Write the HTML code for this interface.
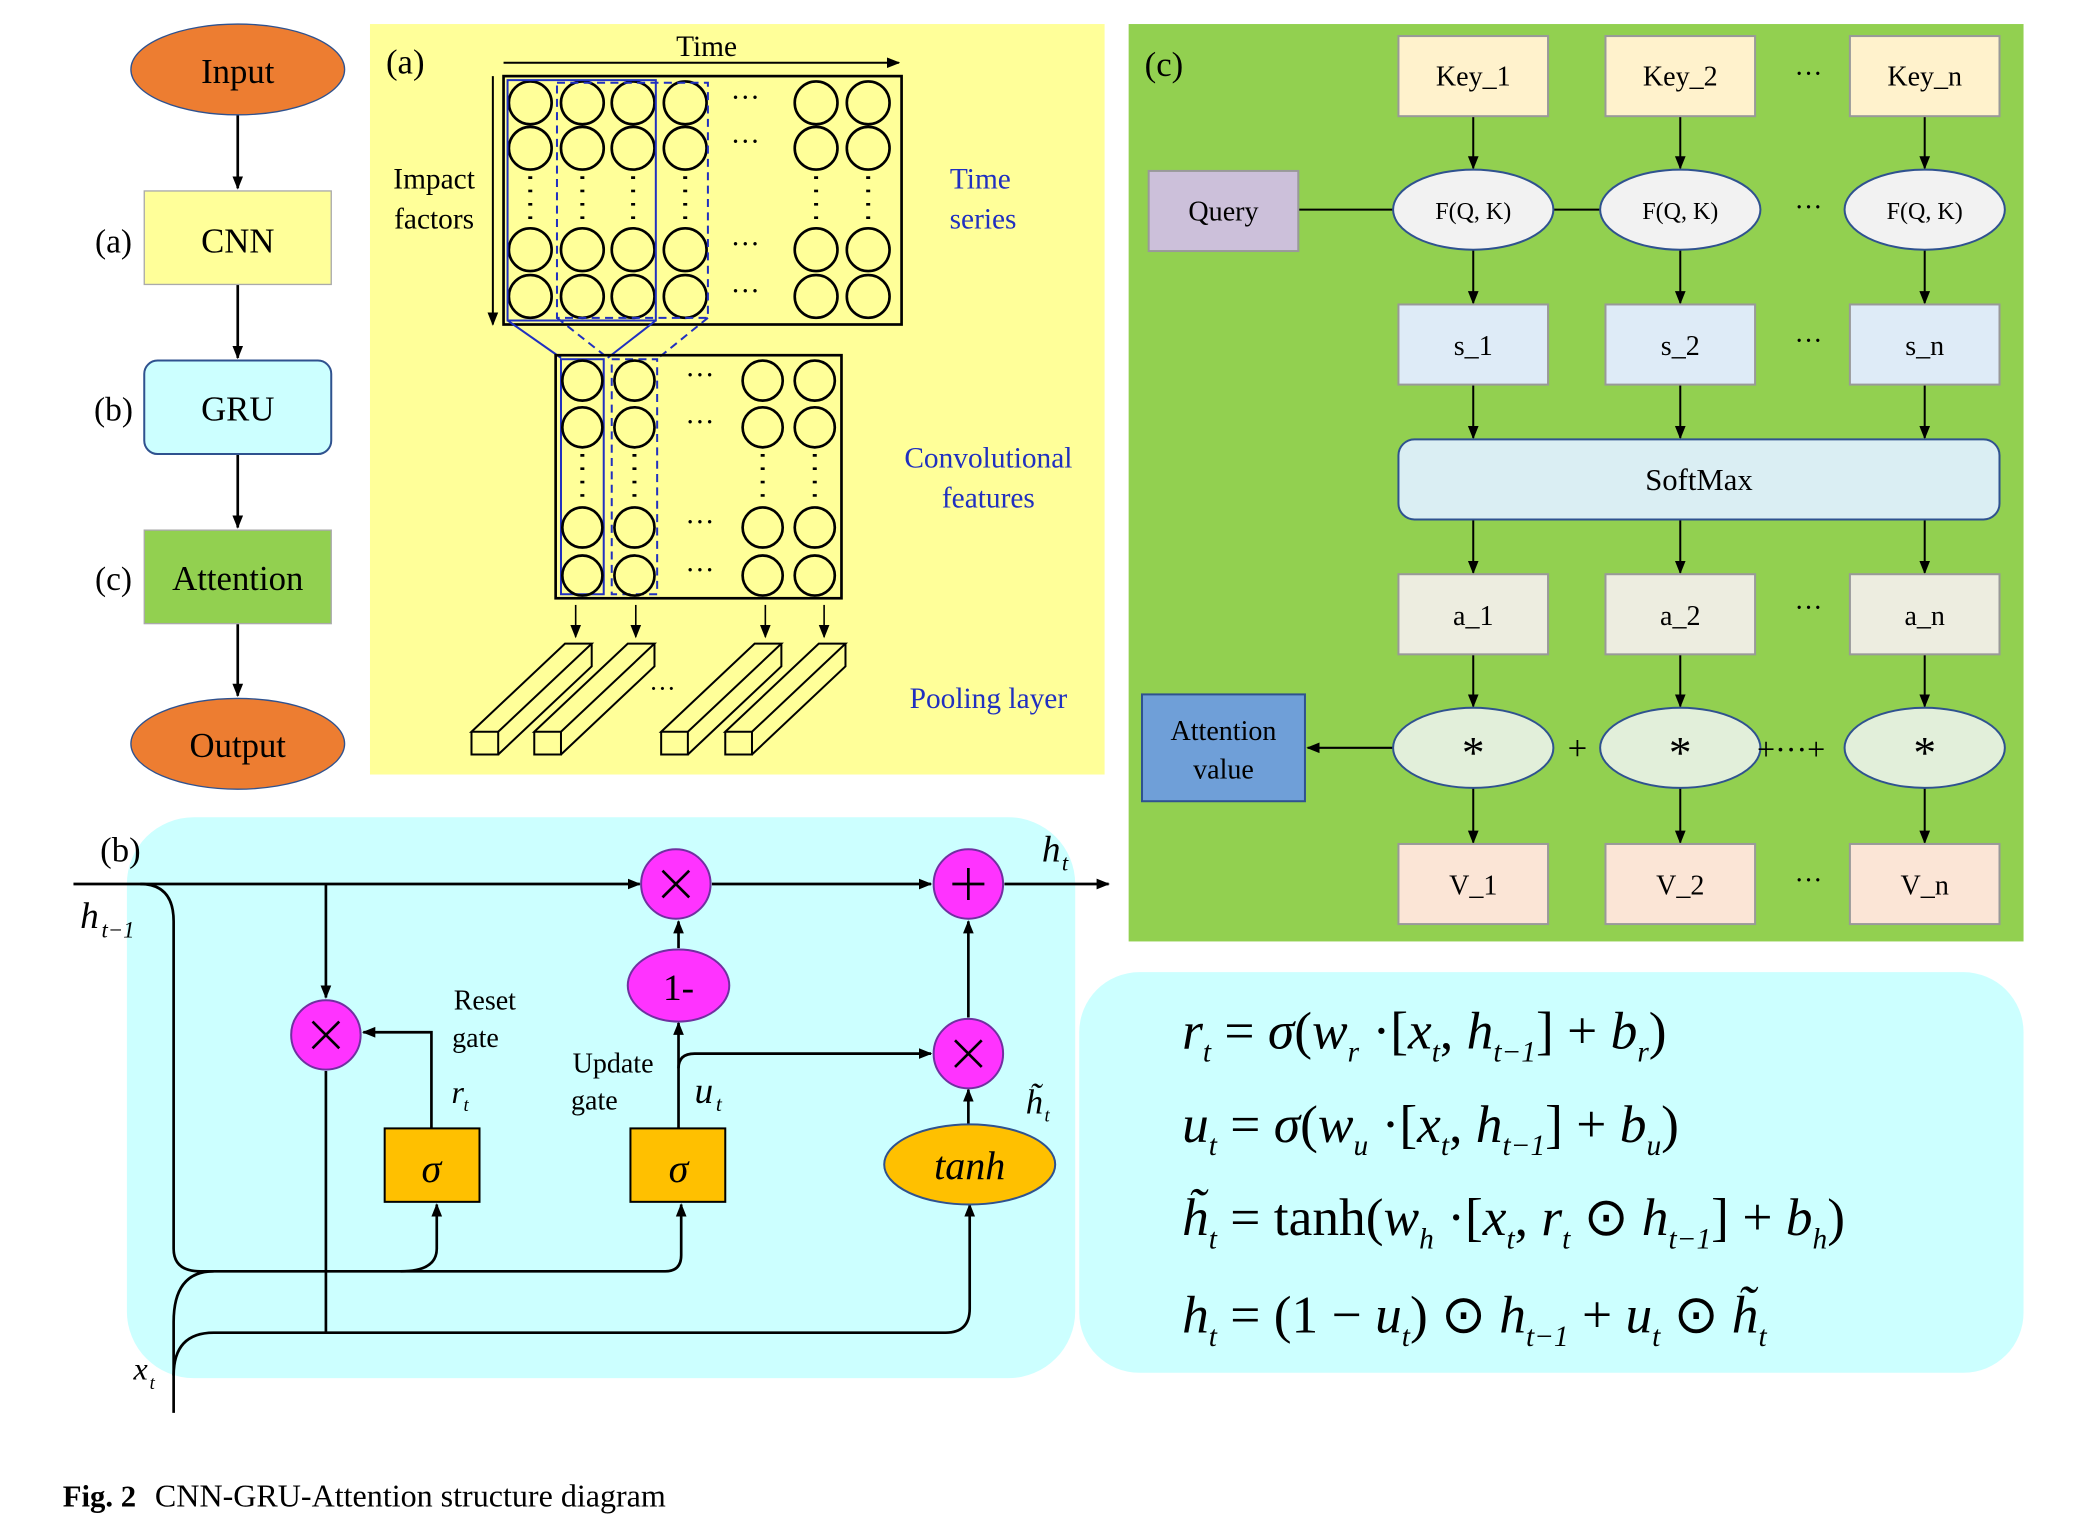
<!DOCTYPE html>
<html><head><meta charset="utf-8"><style>
html,body{margin:0;padding:0;background:#fff;}
svg{display:block;}
text{font-family:"Liberation Serif",serif;}
</style></head><body>
<svg width="2093" height="1521" viewBox="0 0 1567 1139" preserveAspectRatio="none" xmlns="http://www.w3.org/2000/svg">
<defs>
<marker id="ar" markerWidth="10" markerHeight="10" refX="9" refY="5" orient="auto" markerUnits="userSpaceOnUse"><path d="M0,1 L10,5 L0,9 z" fill="#000"/></marker>
</defs>
<!-- Left flow -->
<g stroke="#000" stroke-width="2" fill="none">
<line x1="178" y1="86" x2="178" y2="141" marker-end="url(#ar)"/>
<line x1="178" y1="213" x2="178" y2="268" marker-end="url(#ar)"/>
<line x1="178" y1="340" x2="178" y2="395" marker-end="url(#ar)"/>
<line x1="178" y1="467" x2="178" y2="521" marker-end="url(#ar)"/>
</g>
<ellipse cx="178" cy="52" rx="80" ry="34" fill="#ED7D31" stroke="#2F528F" stroke-width="1"/>
<text x="178" y="62" font-size="26" text-anchor="middle">Input</text>
<rect x="108" y="143" width="140" height="70" fill="#FFFF99" stroke="#aaa"/>
<text x="178" y="189" font-size="26" text-anchor="middle">CNN</text>
<rect x="108" y="270" width="140" height="70" rx="10" fill="#CCFFFF" stroke="#2F528F" stroke-width="1.5"/>
<text x="178" y="315" font-size="26" text-anchor="middle">GRU</text>
<rect x="108" y="397" width="140" height="70" fill="#92D050" stroke="#aaa"/>
<text x="178" y="442" font-size="26" text-anchor="middle">Attention</text>
<ellipse cx="178" cy="557" rx="80" ry="34" fill="#ED7D31" stroke="#2F528F" stroke-width="1"/>
<text x="178" y="567" font-size="26" text-anchor="middle">Output</text>
<text x="85" y="189" font-size="25" text-anchor="middle">(a)</text>
<text x="85" y="315" font-size="25" text-anchor="middle">(b)</text>
<text x="85" y="442" font-size="25" text-anchor="middle">(c)</text>

<!-- Panel (a) -->
<rect x="277" y="18" width="550" height="562" fill="#FFFF99"/>
<text x="289" y="55" font-size="26">(a)</text>
<text x="529" y="42" font-size="22" text-anchor="middle">Time</text>
<line x1="377" y1="47" x2="673" y2="47" stroke="#000" stroke-width="1.5" marker-end="url(#ar)"/>
<line x1="369" y1="57" x2="369" y2="243" stroke="#000" stroke-width="1.5" marker-end="url(#ar)"/>
<text x="325" y="141" font-size="22" text-anchor="middle">Impact</text>
<text x="325" y="171" font-size="22" text-anchor="middle">factors</text>
<text x="734" y="141" font-size="22" text-anchor="middle" fill="#2030C0">Time</text>
<text x="736" y="171" font-size="22" text-anchor="middle" fill="#2030C0">series</text>
<text x="740" y="350" font-size="22" text-anchor="middle" fill="#2030C0">Convolutional</text>
<text x="740" y="380" font-size="22" text-anchor="middle" fill="#2030C0">features</text>
<text x="740" y="530" font-size="22" text-anchor="middle" fill="#2030C0">Pooling layer</text>
<rect x="377" y="57" width="298" height="186" fill="none" stroke="#000" stroke-width="2"/>
<g fill="none" stroke="#000" stroke-width="2">
<circle cx="397" cy="77" r="16"/><circle cx="436" cy="77" r="16"/><circle cx="474" cy="77" r="16"/><circle cx="513" cy="77" r="16"/><circle cx="611" cy="77" r="16"/><circle cx="650" cy="77" r="16"/>
<circle cx="397" cy="111" r="16"/><circle cx="436" cy="111" r="16"/><circle cx="474" cy="111" r="16"/><circle cx="513" cy="111" r="16"/><circle cx="611" cy="111" r="16"/><circle cx="650" cy="111" r="16"/>
<circle cx="397" cy="187" r="16"/><circle cx="436" cy="187" r="16"/><circle cx="474" cy="187" r="16"/><circle cx="513" cy="187" r="16"/><circle cx="611" cy="187" r="16"/><circle cx="650" cy="187" r="16"/>
<circle cx="397" cy="222" r="16"/><circle cx="436" cy="222" r="16"/><circle cx="474" cy="222" r="16"/><circle cx="513" cy="222" r="16"/><circle cx="611" cy="222" r="16"/><circle cx="650" cy="222" r="16"/>
</g>
<g font-size="22" text-anchor="middle"><text x="558" y="80">···</text><text x="558" y="113">···</text><text x="558" y="190">···</text><text x="558" y="225">···</text></g>
<g stroke="#000" stroke-width="3" stroke-dasharray="2,8"><line x1="397" y1="132" x2="397" y2="168"/><line x1="436" y1="132" x2="436" y2="168"/><line x1="474" y1="132" x2="474" y2="168"/><line x1="513" y1="132" x2="513" y2="168"/><line x1="611" y1="132" x2="611" y2="168"/><line x1="650" y1="132" x2="650" y2="168"/></g>
<rect x="380" y="60" width="111" height="180" fill="none" stroke="#2030C0" stroke-width="1.5"/>
<rect x="417" y="62" width="113" height="176" fill="none" stroke="#2030C0" stroke-width="1.5" stroke-dasharray="6,4"/>
<line x1="380" y1="240" x2="420" y2="268" stroke="#2030C0" stroke-width="1.5"/>
<line x1="491" y1="240" x2="455" y2="268" stroke="#2030C0" stroke-width="1.5"/>
<line x1="417" y1="238" x2="455" y2="268" stroke="#2030C0" stroke-width="1.5" stroke-dasharray="6,4"/>
<line x1="530" y1="238" x2="493" y2="268" stroke="#2030C0" stroke-width="1.5" stroke-dasharray="6,4"/>
<rect x="416" y="266" width="214" height="182" fill="none" stroke="#000" stroke-width="2"/>
<rect x="420" y="269" width="32" height="176" fill="none" stroke="#2030C0" stroke-width="1.5"/>
<rect x="458" y="269" width="34" height="176" fill="none" stroke="#2030C0" stroke-width="1.5" stroke-dasharray="6,4"/>
<g fill="none" stroke="#000" stroke-width="2">
<circle cx="436" cy="285" r="15"/><circle cx="475" cy="285" r="15"/><circle cx="571" cy="285" r="15"/><circle cx="610" cy="285" r="15"/>
<circle cx="436" cy="320" r="15"/><circle cx="475" cy="320" r="15"/><circle cx="571" cy="320" r="15"/><circle cx="610" cy="320" r="15"/>
<circle cx="436" cy="395" r="15"/><circle cx="475" cy="395" r="15"/><circle cx="571" cy="395" r="15"/><circle cx="610" cy="395" r="15"/>
<circle cx="436" cy="431" r="15"/><circle cx="475" cy="431" r="15"/><circle cx="571" cy="431" r="15"/><circle cx="610" cy="431" r="15"/>
</g>
<g font-size="22" text-anchor="middle"><text x="524" y="288">···</text><text x="524" y="323">···</text><text x="524" y="398">···</text><text x="524" y="434">···</text></g>
<g stroke="#000" stroke-width="3" stroke-dasharray="2,8"><line x1="436" y1="340" x2="436" y2="376"/><line x1="475" y1="340" x2="475" y2="376"/><line x1="571" y1="340" x2="571" y2="376"/><line x1="610" y1="340" x2="610" y2="376"/></g>
<g stroke="#000" stroke-width="1.2"><line x1="431" y1="453" x2="431" y2="477" marker-end="url(#ar)"/><line x1="476" y1="453" x2="476" y2="477" marker-end="url(#ar)"/><line x1="573" y1="453" x2="573" y2="477" marker-end="url(#ar)"/><line x1="617" y1="453" x2="617" y2="477" marker-end="url(#ar)"/></g>
<g fill="#FFFF99" stroke="#000" stroke-width="1.5">
<path d="M353,548 L423,482 L443,482 L373,548 Z M353,548 L353,565 L373,565 L373,548 M373,565 L443,499 L443,482"/>
<path d="M400,548 L470,482 L490,482 L420,548 Z M400,548 L400,565 L420,565 L420,548 M420,565 L490,499 L490,482"/>
<path d="M495,548 L565,482 L585,482 L515,548 Z M495,548 L495,565 L515,565 L515,548 M515,565 L585,499 L585,482"/>
<path d="M543,548 L613,482 L633,482 L563,548 Z M543,548 L543,565 L563,565 L563,548 M563,565 L633,499 L633,482"/>
</g>
<text x="496" y="522" font-size="20" text-anchor="middle">···</text>

<!-- Panel (c) -->
<rect x="845" y="18" width="670" height="687" fill="#92D050"/>
<text x="857" y="57" font-size="26">(c)</text>
<g stroke="#000" stroke-width="1.5">
<line x1="972" y1="157" x2="1043" y2="157"/><line x1="1163" y1="157" x2="1198" y2="157"/>
<line x1="1043" y1="560" x2="979" y2="560" marker-end="url(#ar)"/>
</g>
<g stroke="#000" stroke-width="1.5">
<line x1="1103" y1="87" x2="1103" y2="126" marker-end="url(#ar)"/><line x1="1258" y1="87" x2="1258" y2="126" marker-end="url(#ar)"/><line x1="1441" y1="87" x2="1441" y2="126" marker-end="url(#ar)"/>
<line x1="1103" y1="187" x2="1103" y2="227" marker-end="url(#ar)"/><line x1="1258" y1="187" x2="1258" y2="227" marker-end="url(#ar)"/><line x1="1441" y1="187" x2="1441" y2="227" marker-end="url(#ar)"/>
<line x1="1103" y1="288" x2="1103" y2="328" marker-end="url(#ar)"/><line x1="1258" y1="288" x2="1258" y2="328" marker-end="url(#ar)"/><line x1="1441" y1="288" x2="1441" y2="328" marker-end="url(#ar)"/>
<line x1="1103" y1="389" x2="1103" y2="429" marker-end="url(#ar)"/><line x1="1258" y1="389" x2="1258" y2="429" marker-end="url(#ar)"/><line x1="1441" y1="389" x2="1441" y2="429" marker-end="url(#ar)"/>
<line x1="1103" y1="490" x2="1103" y2="529" marker-end="url(#ar)"/><line x1="1258" y1="490" x2="1258" y2="529" marker-end="url(#ar)"/><line x1="1441" y1="490" x2="1441" y2="529" marker-end="url(#ar)"/>
<line x1="1103" y1="590" x2="1103" y2="631" marker-end="url(#ar)"/><line x1="1258" y1="590" x2="1258" y2="631" marker-end="url(#ar)"/><line x1="1441" y1="590" x2="1441" y2="631" marker-end="url(#ar)"/>
</g>
<g stroke="#999" stroke-width="1.5" font-size="21" text-anchor="middle">
<rect x="1047" y="27" width="112" height="60" fill="#FFF2CC"/><rect x="1202" y="27" width="112" height="60" fill="#FFF2CC"/><rect x="1385" y="27" width="112" height="60" fill="#FFF2CC"/>
<rect x="1047" y="228" width="112" height="60" fill="#DEEBF7"/><rect x="1202" y="228" width="112" height="60" fill="#DEEBF7"/><rect x="1385" y="228" width="112" height="60" fill="#DEEBF7"/>
<rect x="1047" y="430" width="112" height="60" fill="#EDEDE0"/><rect x="1202" y="430" width="112" height="60" fill="#EDEDE0"/><rect x="1385" y="430" width="112" height="60" fill="#EDEDE0"/>
<rect x="1047" y="632" width="112" height="60" fill="#FBE5D6"/><rect x="1202" y="632" width="112" height="60" fill="#FBE5D6"/><rect x="1385" y="632" width="112" height="60" fill="#FBE5D6"/>
<rect x="860" y="128" width="112" height="60" fill="#CCC0DA"/>
<rect x="855" y="520" width="122" height="80" fill="#6F9FD8" stroke="#2F528F"/>
<rect x="1047" y="329" width="450" height="60" rx="12" fill="#DAEEF3" stroke="#2F528F"/>
</g>
<g stroke="#2F528F" stroke-width="1.5">
<ellipse cx="1103" cy="157" rx="60" ry="30" fill="#F2F2F2"/><ellipse cx="1258" cy="157" rx="60" ry="30" fill="#F2F2F2"/><ellipse cx="1441" cy="157" rx="60" ry="30" fill="#F2F2F2"/>
<ellipse cx="1103" cy="560" rx="60" ry="30" fill="#E2EFDA"/><ellipse cx="1258" cy="560" rx="60" ry="30" fill="#E2EFDA"/><ellipse cx="1441" cy="560" rx="60" ry="30" fill="#E2EFDA"/>
</g>
<g font-size="21" text-anchor="middle">
<text x="1103" y="64">Key_1</text><text x="1258" y="64">Key_2</text><text x="1441" y="64">Key_n</text>
<text x="1103" y="164" font-size="18">F(Q, K)</text><text x="1258" y="164" font-size="18">F(Q, K)</text><text x="1441" y="164" font-size="18">F(Q, K)</text>
<text x="1103" y="266">s_1</text><text x="1258" y="266">s_2</text><text x="1441" y="266">s_n</text>
<text x="1272" y="367" font-size="23">SoftMax</text>
<text x="1103" y="468">a_1</text><text x="1258" y="468">a_2</text><text x="1441" y="468">a_n</text>
<text x="1103" y="670">V_1</text><text x="1258" y="670">V_2</text><text x="1441" y="670">V_n</text>
<text x="916" y="165">Query</text>
<text x="916" y="554">Attention</text><text x="916" y="583">value</text>
<text x="1103" y="575" font-size="34">*</text><text x="1258" y="575" font-size="34">*</text><text x="1441" y="575" font-size="34">*</text>
<text x="1181" y="569" font-size="26">+</text><text x="1341" y="569" font-size="24">+···+</text>
<text x="1354" y="62">···</text><text x="1354" y="162">···</text><text x="1354" y="262">···</text><text x="1354" y="462">···</text><text x="1354" y="666">···</text>
</g>

<!-- Panel (b) -->
<rect x="95" y="612" width="710" height="420" rx="50" fill="#CCFFFF"/>
<text x="75" y="645" font-size="26">(b)</text>
<g stroke="#000" stroke-width="2" fill="none">
<line x1="55" y1="662" x2="479" y2="662" marker-end="url(#ar)"/>
<line x1="533" y1="662" x2="697" y2="662" marker-end="url(#ar)"/>
<line x1="752" y1="662" x2="830" y2="662" marker-end="url(#ar)"/>
<line x1="244" y1="662" x2="244" y2="747" marker-end="url(#ar)"/>
<line x1="508" y1="710" x2="508" y2="690" marker-end="url(#ar)"/>
<line x1="725" y1="762" x2="725" y2="690" marker-end="url(#ar)"/>
<line x1="725" y1="845" x2="725" y2="816" marker-end="url(#ar)"/>
<path d="M508,845 L508,766" marker-end="url(#ar)"/>
<path d="M508,800 Q508,789 520,789 L697,789" marker-end="url(#ar)"/>
<path d="M323,845 L323,773 L272,773" marker-end="url(#ar)"/>
<path d="M244,802 L244,998"/>
<path d="M105,662 Q130,662 130,690 L130,935 Q130,952 150,952 L498,952 Q510,952 510,940 L510,902" marker-end="url(#ar)"/>
<path d="M130,1058 L130,990 Q130,952 160,952"/>
<path d="M130,1030 Q130,998 160,998 L708,998 Q726,998 726,980 L726,902" marker-end="url(#ar)"/>
<path d="M300,952 Q327,952 327,935 L327,902" marker-end="url(#ar)"/>
</g>
<g stroke="#7030A0" stroke-width="1.5" fill="#FF33FF">
<circle cx="506" cy="662" r="26"/><circle cx="725" cy="662" r="26"/><circle cx="244" cy="775" r="26"/><circle cx="725" cy="789" r="26"/>
<ellipse cx="508" cy="738" rx="38" ry="27"/>
</g>
<g stroke="#000" stroke-width="2">
<path d="M496,652 L516,672 M516,652 L496,672"/><path d="M234,765 L254,785 M254,765 L234,785"/><path d="M715,779 L735,799 M735,779 L715,799"/>
<path d="M713,662 L737,662 M725,650 L725,674"/>
</g>
<text x="508" y="749" font-size="28" text-anchor="middle">1-</text>
<rect x="288" y="845" width="71" height="55" fill="#FFC000" stroke="#000" stroke-width="1.5"/>
<rect x="472" y="845" width="71" height="55" fill="#FFC000" stroke="#000" stroke-width="1.5"/>
<ellipse cx="726" cy="872" rx="64" ry="30" fill="#FFC000" stroke="#2F528F" stroke-width="1.5"/>
<g font-style="italic" font-size="30" text-anchor="middle">
<text x="323" y="885">σ</text><text x="508" y="885">σ</text><text x="726" y="883">tanh</text>
</g>
<g font-size="21" text-anchor="middle"><text x="363" y="756">Reset</text><text x="356" y="784">gate</text><text x="459" y="803">Update</text><text x="445" y="831">gate</text></g>
<g font-style="italic" font-size="28">
<text x="60" y="695">h</text><text x="76" y="702" font-size="17">t−1</text>
<text x="780" y="645">h</text><text x="795" y="652" font-size="17">t</text>
<text x="338" y="826" font-size="24">r</text><text x="347" y="832" font-size="14">t</text>
<text x="520" y="826" font-size="28">u</text><text x="536" y="832" font-size="16">t</text>
<text x="768" y="834" font-size="26">h̃</text><text x="782" y="840" font-size="14">t</text>
<text x="100" y="1033" font-size="24">x</text><text x="112" y="1040" font-size="14">t</text>
</g>

<!-- Equations -->
<rect x="808" y="728" width="707" height="300" rx="45" fill="#CCFFFF"/>
<g font-family="Liberation Serif,serif" font-size="40">
<text x="885" y="785"><tspan font-style="italic">r</tspan><tspan font-size="22" font-style="italic" dy="10">t</tspan><tspan dy="-10"> = </tspan><tspan font-style="italic">σ</tspan>(<tspan font-style="italic">w</tspan><tspan font-size="22" font-style="italic" dy="10">r</tspan><tspan dy="-10"> ·[</tspan><tspan font-style="italic">x</tspan><tspan font-size="22" font-style="italic" dy="10">t</tspan><tspan dy="-10">, </tspan><tspan font-style="italic">h</tspan><tspan font-size="22" font-style="italic" dy="10">t−1</tspan><tspan dy="-10">] + </tspan><tspan font-style="italic">b</tspan><tspan font-size="22" font-style="italic" dy="10">r</tspan><tspan dy="-10">)</tspan></text>
<text x="885" y="855"><tspan font-style="italic">u</tspan><tspan font-size="22" font-style="italic" dy="10">t</tspan><tspan dy="-10"> = </tspan><tspan font-style="italic">σ</tspan>(<tspan font-style="italic">w</tspan><tspan font-size="22" font-style="italic" dy="10">u</tspan><tspan dy="-10"> ·[</tspan><tspan font-style="italic">x</tspan><tspan font-size="22" font-style="italic" dy="10">t</tspan><tspan dy="-10">, </tspan><tspan font-style="italic">h</tspan><tspan font-size="22" font-style="italic" dy="10">t−1</tspan><tspan dy="-10">] + </tspan><tspan font-style="italic">b</tspan><tspan font-size="22" font-style="italic" dy="10">u</tspan><tspan dy="-10">)</tspan></text>
<text x="885" y="925"><tspan font-style="italic">h̃</tspan><tspan font-size="22" font-style="italic" dy="10">t</tspan><tspan dy="-10"> = tanh(</tspan><tspan font-style="italic">w</tspan><tspan font-size="22" font-style="italic" dy="10">h</tspan><tspan dy="-10"> ·[</tspan><tspan font-style="italic">x</tspan><tspan font-size="22" font-style="italic" dy="10">t</tspan><tspan dy="-10">, </tspan><tspan font-style="italic">r</tspan><tspan font-size="22" font-style="italic" dy="10">t</tspan><tspan dy="-10"> ⊙ </tspan><tspan font-style="italic">h</tspan><tspan font-size="22" font-style="italic" dy="10">t−1</tspan><tspan dy="-10">] + </tspan><tspan font-style="italic">b</tspan><tspan font-size="22" font-style="italic" dy="10">h</tspan><tspan dy="-10">)</tspan></text>
<text x="885" y="998"><tspan font-style="italic">h</tspan><tspan font-size="22" font-style="italic" dy="10">t</tspan><tspan dy="-10"> = (1 − </tspan><tspan font-style="italic">u</tspan><tspan font-size="22" font-style="italic" dy="10">t</tspan><tspan dy="-10">) ⊙ </tspan><tspan font-style="italic">h</tspan><tspan font-size="22" font-style="italic" dy="10">t−1</tspan><tspan dy="-10"> + </tspan><tspan font-style="italic">u</tspan><tspan font-size="22" font-style="italic" dy="10">t</tspan><tspan dy="-10"> ⊙ </tspan><tspan font-style="italic">h̃</tspan><tspan font-size="22" font-style="italic" dy="10">t</tspan></text>
</g>

<!-- Caption -->
<text x="47" y="1128" font-size="23" font-family="Liberation Sans,sans-serif" font-weight="bold">Fig. 2</text>
<text x="116" y="1128" font-size="24">CNN-GRU-Attention structure diagram</text>
</svg>
</body></html>
